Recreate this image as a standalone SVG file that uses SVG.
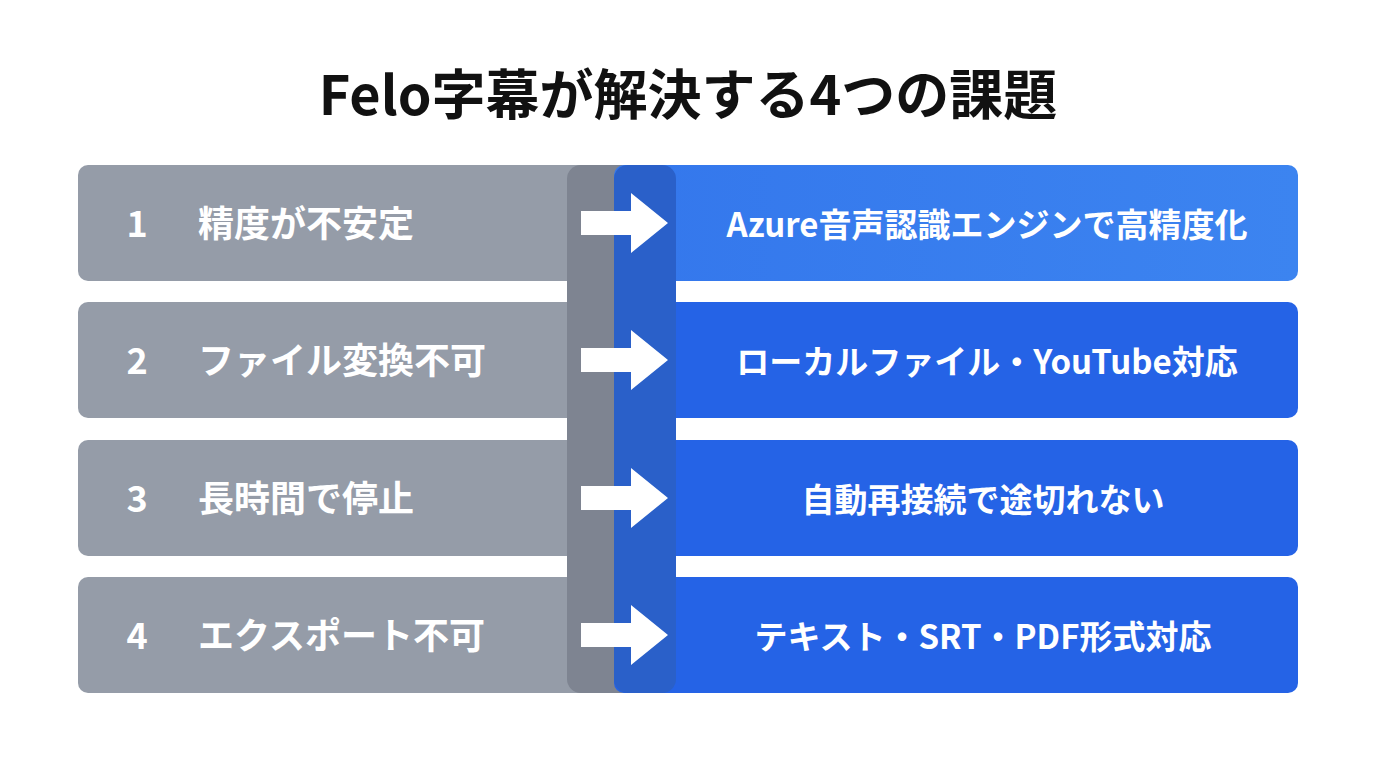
<svg xmlns="http://www.w3.org/2000/svg" width="1376" height="768" viewBox="0 0 1376 768">
<defs>
<style>
.t{font-family:"Noto Sans CJK JP","Noto Sans",sans-serif;font-weight:700;fill:#fff}
.l{fill:#959ca8}
.r{fill:#2563e6}
</style>
<linearGradient id="g1" x1="0" x2="1"><stop offset="0" stop-color="#3477ec"/><stop offset="1" stop-color="#3c84f0"/></linearGradient>
<polygon id="arr" points="0,-12 50,-12 50,-30 87,0 50,30 50,12 0,12" fill="#fff"/>
</defs>
<rect width="1376" height="768" fill="#fff"/>
<text x="688" y="115" text-anchor="middle" font-family="Noto Sans CJK JP,Noto Sans,sans-serif" font-weight="700" font-size="54" fill="#111">Felo字幕が解決する4つの課題</text>
<g id="left">
<rect class="l" x="78" y="165" width="540" height="116" rx="10"/>
<rect class="l" x="78" y="302" width="540" height="116" rx="10"/>
<rect class="l" x="78" y="440" width="540" height="116" rx="10"/>
<rect class="l" x="78" y="577" width="540" height="116" rx="10"/>
</g>
<rect x="567" y="165" width="80" height="528" rx="14" fill="#7e8491"/>
<g id="right">
<rect fill="url(#g1)" x="614" y="165" width="684" height="116" rx="10"/>
<rect class="r" x="614" y="302" width="684" height="116" rx="10"/>
<rect class="r" x="614" y="440" width="684" height="116" rx="10"/>
<rect class="r" x="614" y="577" width="684" height="116" rx="10"/>
</g>
<rect x="614" y="165" width="62" height="528" rx="14" fill="#2a60c9"/>
<g id="connectors">
<use href="#arr" x="581" y="223"/>
<use href="#arr" x="581" y="360"/>
<use href="#arr" x="581" y="498"/>
<use href="#arr" x="581" y="635"/>
</g>
<g id="n1"><text class="t" x="137" y="237" font-size="36" text-anchor="middle">1</text><text class="t" x="198" y="237" font-size="36">精度が不安定</text><text class="t" x="987" y="237" font-size="33" text-anchor="middle">Azure音声認識エンジンで高精度化</text></g>
<g id="n2"><text class="t" x="137" y="374" font-size="36" text-anchor="middle">2</text><text class="t" x="198" y="374" font-size="36">ファイル変換不可</text><text class="t" x="987" y="374" font-size="33" text-anchor="middle">ローカルファイル・YouTube対応</text></g>
<g id="n3"><text class="t" x="137" y="512" font-size="36" text-anchor="middle">3</text><text class="t" x="198" y="512" font-size="36">長時間で停止</text><text class="t" x="983" y="512" font-size="33" text-anchor="middle">自動再接続で途切れない</text></g>
<g id="n4"><text class="t" x="137" y="649" font-size="36" text-anchor="middle">4</text><text class="t" x="198" y="649" font-size="36">エクスポート不可</text><text class="t" x="983" y="649" font-size="33" text-anchor="middle">テキスト・SRT・PDF形式対応</text></g>
</svg>
